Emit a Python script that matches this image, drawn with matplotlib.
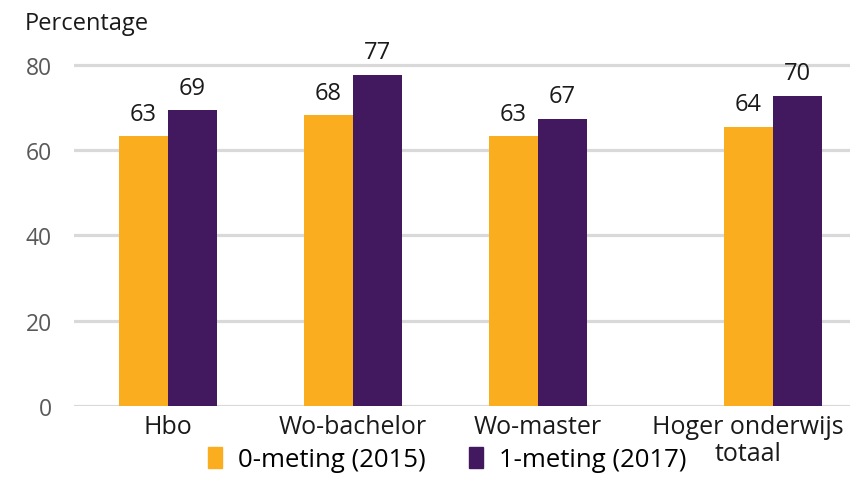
#import necessary libraries
import numpy as np
import matplotlib.pyplot as plt
import matplotlib.transforms as mtransforms
from matplotlib.patches import Patch

#chart data
categories=['Hbo','Wo-bachelor','Wo-master','Hoger onderwijs\ntotaal']
series_names=['0-meting (2015)','1-meting (2017)']
meting_2015=[63.2,68.1,63.2,65.4]
meting_2017=[69.3,77.6,67.3,72.7]
labels_2015=['63','68','63','64']
labels_2017=['69','77','67','70']
yticks=[0,20,40,60,80]

#colours
orange='#FAAD1E'
purple='#42195F'
grid_grey='#D9D9D9'

plt.rcParams['font.family']=['Open Sans','DejaVu Sans']

fig=plt.figure(figsize=(8.5,5.02),dpi=100)
ax=fig.add_axes([0.087,0.189,0.913,0.723])

#group positions, the total group sits a bit further away from the others
x=np.arange(len(categories),dtype=float)
x[-1]+=0.27
w=0.265

bars1=ax.bar(x-w/2,meting_2015,w,color=orange,zorder=3)
bars2=ax.bar(x+w/2,meting_2017,w,color=purple,zorder=3)

#value labels above the bars
for bars,labels in [(bars1,labels_2015),(bars2,labels_2017)]:
    for b,lab in zip(bars,labels):
        ax.annotate(lab,(b.get_x()+b.get_width()/2,b.get_height()),
                    xytext=(0,12),textcoords='offset points',
                    ha='center',va='baseline',fontsize=17,color='#1A1A1A')

#axes styling
ax.set_xlim(-0.508,3.686)
ax.set_ylim(0,85)
ax.set_yticks(yticks)
ax.set_yticklabels([str(t) for t in yticks],fontsize=16.5,color='#595959')
ax.yaxis.grid(True,color=grid_grey,linewidth=2.3,zorder=0)
ax.tick_params(axis='y',length=0,pad=16)
ax.tick_params(axis='x',length=0,pad=6)
for s in ax.spines.values():
    s.set_visible(False)

ax.set_xticks(x)
ax.set_xticklabels(categories,fontsize=18,color='#1A1A1A',linespacing=1.1)
#the last label is pushed left so it stays inside the picture
last=ax.get_xticklabels()[-1]
last.set_transform(last.get_transform()+mtransforms.ScaledTranslation(-0.25,0,fig.dpi_scale_trans))

#y axis title on top
fig.text(0.029,0.94,'Percentage',fontsize=17,color='#1A1A1A',ha='left',va='baseline')

#legend at the bottom
handles=[Patch(color=orange),Patch(color=purple)]
fig.legend(handles,series_names,loc='center',bbox_to_anchor=(0.526,0.082),ncol=2,
           frameon=False,fontsize=18.5,handlelength=0.55,handleheight=0.85,
           handletextpad=0.6,columnspacing=1.7)

plt.savefig('out.png',dpi=100)
